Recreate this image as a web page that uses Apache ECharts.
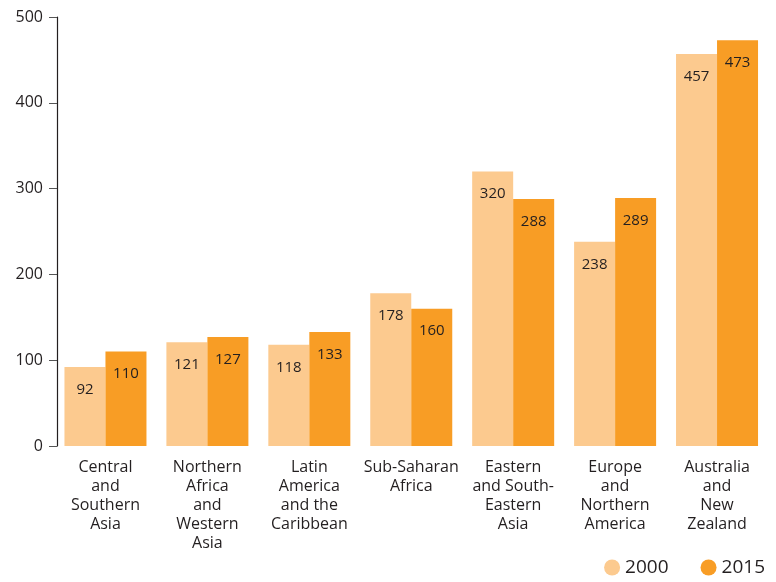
<!DOCTYPE html>
<html><head><meta charset="utf-8">
<script src="https://cdn.jsdelivr.net/npm/echarts@6/dist/echarts.min.js"></script>
<style>html,body{margin:0;padding:0;background:#fff}#c{width:776px;height:582px}</style>
</head><body><div id="c"></div>
<script>
const categories = ["Central\nand\nSouthern\nAsia", "Northern\nAfrica\nand\nWestern\nAsia", "Latin\nAmerica\nand the\nCaribbean", "Sub-Saharan\nAfrica", "Eastern\nand South-\nEastern\nAsia", "Europe\nand\nNorthern\nAmerica", "Australia\nand\nNew\nZealand"];
const values2000 = [92, 121, 118, 178, 320, 238, 457];
const values2015 = [110, 127, 133, 160, 288, 289, 473];
const yTicks = [0, 100, 200, 300, 400, 500];
const FONT = 'Open Sans';
const TXT = '#231f20';
const chart = echarts.init(document.getElementById('c'));
const lbl = {show: true, position: 'insideTop', distance: 15, color: TXT, fontFamily: FONT, fontSize: 15};
chart.setOption({
  animation: false,
  textStyle: {fontFamily: FONT},
  grid: {left: 54.5, right: 8, top: 17, bottom: 136},
  legend: {
    right: 6, bottom: 0, icon: 'circle', itemWidth: 16, itemHeight: 16, itemGap: 32, itemTextGap: 7,
    textStyle: {color: TXT, fontSize: 19, fontFamily: FONT},
    data: ['2000', '2015']
  },
  xAxis: {
    type: 'category', data: categories,
    axisLine: {show: false}, axisTick: {show: false},
    axisLabel: {interval: 0, color: TXT, fontSize: 16, lineHeight: 19, margin: 12, fontFamily: FONT}
  },
  yAxis: {
    type: 'value', min: yTicks[0], max: yTicks[yTicks.length - 1], interval: 100, offset: -2.5,
    axisLine: {show: true, lineStyle: {color: TXT, width: 1.2}},
    axisTick: {show: true, length: 8, lineStyle: {color: '#555'}},
    splitLine: {show: false},
    axisLabel: {color: TXT, fontSize: 16, margin: 14, fontFamily: FONT}
  },
  series: [
    {name: '2000', type: 'bar', data: values2000, barWidth: 41, barGap: '0%', itemStyle: {color: '#fcca8f'}, label: lbl},
    {name: '2015', type: 'bar', data: values2015, barWidth: 41, barGap: '0%', itemStyle: {color: '#f89d25'}, label: lbl}
  ]
});
</script></body></html>
